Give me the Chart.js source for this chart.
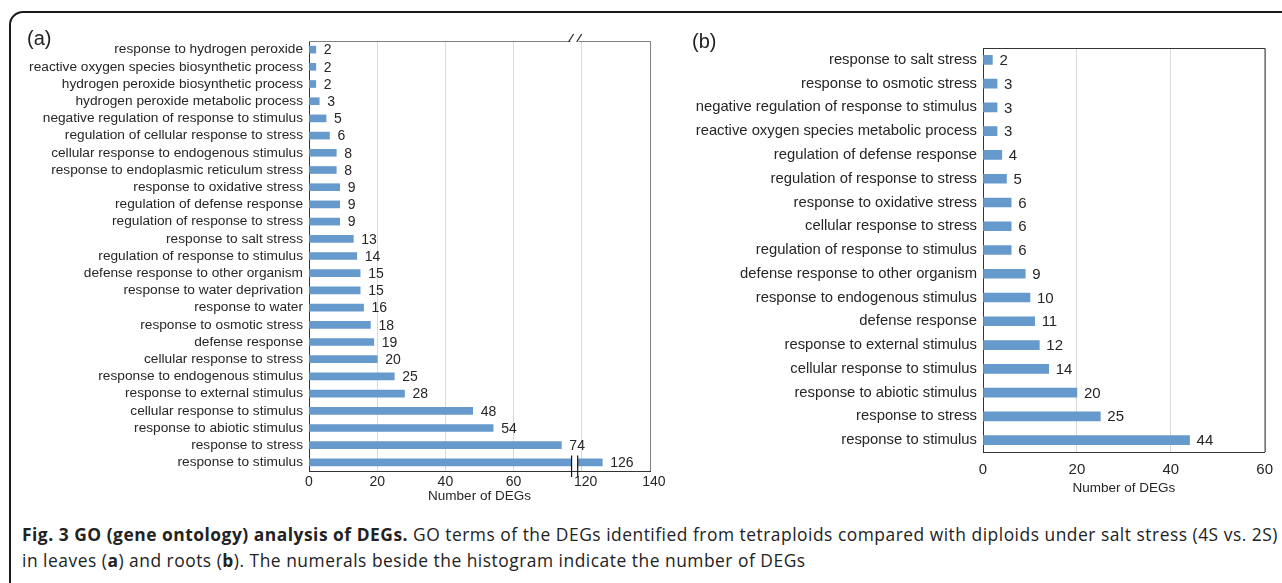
<!DOCTYPE html>
<html>
<head>
<meta charset="utf-8">
<script src="https://cdn.jsdelivr.net/npm/chart.js@4/dist/chart.umd.min.js"></script>
<style>
  body { margin: 0; background: #fff; width: 1282px; height: 583px; overflow: hidden; position: relative; font-family: "Liberation Sans", Arial, sans-serif; }
  #frame { position: absolute; left: 9px; top: 11px; width: 1320px; height: 640px; border: 2px solid #1a1a1a; border-radius: 14px; }
  .box { position: absolute; top: 0; height: 505px; }
  #boxA { left: 0; width: 680px; }
  #boxB { left: 680px; width: 602px; }
  .tag { position: absolute; font-size: 20px; color: #222; }
  #caption { position: absolute; left: 22px; top: 521px; font-family: "Open Sans", sans-serif; font-size: 17.4px; color: #222; line-height: 26px; white-space: nowrap; }
</style>
</head>
<body>
<div id="frame"></div>
<div class="box" id="boxA"><canvas id="chartA"></canvas></div>
<div class="box" id="boxB"><canvas id="chartB"></canvas></div>
<div class="tag" style="left:27px;top:27px;">(a)</div>
<div class="tag" style="left:692px;top:30px;">(b)</div>
<div id="caption"><span id="line1"><b>Fig. 3 GO (gene ontology) analysis of DEGs.</b> GO terms of the DEGs identified from tetraploids compared with diploids under salt stress (4S vs. 2S)</span><br><span id="line2">in leaves (<b>a</b>) and roots (<b>b</b>). The numerals beside the histogram indicate the number of DEGs</span></div>
<script>
// (a) leaves
var leafTerms = [
  'response to hydrogen peroxide',
  'reactive oxygen species biosynthetic process',
  'hydrogen peroxide biosynthetic process',
  'hydrogen peroxide metabolic process',
  'negative regulation of response to stimulus',
  'regulation of cellular response to stress',
  'cellular response to endogenous stimulus',
  'response to endoplasmic reticulum stress',
  'response to oxidative stress',
  'regulation of defense response',
  'regulation of response to stress',
  'response to salt stress',
  'regulation of response to stimulus',
  'defense response to other organism',
  'response to water deprivation',
  'response to water',
  'response to osmotic stress',
  'defense response',
  'cellular response to stress',
  'response to endogenous stimulus',
  'response to external stimulus',
  'cellular response to stimulus',
  'response to abiotic stimulus',
  'response to stress',
  'response to stimulus'
];
var leafCounts = [2, 2, 2, 3, 5, 6, 8, 8, 9, 9, 9, 13, 14, 15, 15, 16, 18, 19, 20, 25, 28, 48, 54, 74, 126];

// (b) roots
var rootTerms = [
  'response to salt stress',
  'response to osmotic stress',
  'negative regulation of response to stimulus',
  'reactive oxygen species metabolic process',
  'regulation of defense response',
  'regulation of response to stress',
  'response to oxidative stress',
  'cellular response to stress',
  'regulation of response to stimulus',
  'defense response to other organism',
  'response to endogenous stimulus',
  'defense response',
  'response to external stimulus',
  'cellular response to stimulus',
  'response to abiotic stimulus',
  'response to stress',
  'response to stimulus'
];
var rootCounts = [2, 3, 3, 3, 4, 5, 6, 6, 6, 9, 10, 11, 12, 14, 20, 25, 44];

var leafTicks = [0, 20, 40, 60, 120, 140];
var rootTicks = [0, 20, 40, 60];

// broken axis on (a): 80..100 on the drawn scale stand for 120..140
var axisJump = 40;
var breakMarks = [77, 78.8];

var barColor = '#6699CC';
var textColor = '#262626';

function toDrawn(v) { return v > 100 ? v - axisJump : v; }

const valueLabels = {
  id: 'valueLabels',
  afterDatasetsDraw(chart, args, opts) {
    const ctx = chart.ctx;
    const meta = chart.getDatasetMeta(0);
    const raw = opts.values;
    ctx.save();
    ctx.font = opts.size + 'px "Liberation Sans", Arial, sans-serif';
    ctx.fillStyle = textColor;
    ctx.textAlign = 'left';
    ctx.textBaseline = 'middle';
    meta.data.forEach((bar, i) => {
      ctx.fillText(String(raw[i]), bar.x + opts.gap, bar.y + 1);
    });
    ctx.restore();
  }
};

const frameBox = {
  id: 'frameBox',
  afterDraw(chart, args, opts) {
    const a = chart.chartArea, ctx = chart.ctx;
    ctx.save();
    ctx.lineWidth = 1;
    ctx.strokeStyle = opts.color;
    ctx.beginPath();
    ctx.moveTo(a.left, a.top + 0.5);
    ctx.lineTo(a.right + 0.5, a.top + 0.5);
    ctx.lineTo(a.right + 0.5, a.bottom);
    ctx.stroke();
    ctx.restore();
  }
};

const axisBreak = {
  id: 'axisBreak',
  afterDraw(chart) {
    const ctx = chart.ctx, sx = chart.scales.x, a = chart.chartArea;
    const x1 = sx.getPixelForValue(breakMarks[0]);
    const x2 = sx.getPixelForValue(breakMarks[1]);
    const meta = chart.getDatasetMeta(0);
    ctx.save();
    // gap through bars that cross the break
    meta.data.forEach((bar, i) => {
      if (leafCounts[i] > 100) {
        ctx.fillStyle = '#fff';
        ctx.fillRect(x1, bar.y - bar.height / 2 - 1, x2 - x1, bar.height + 2);
        ctx.strokeStyle = '#111';
        ctx.lineWidth = 1.2;
        ctx.beginPath();
        ctx.moveTo(x1, bar.y - 7); ctx.lineTo(x1, a.bottom + 6);
        ctx.moveTo(x2, bar.y - 7); ctx.lineTo(x2, a.bottom + 6);
        ctx.stroke();
      }
    });
    // slashes on the top border
    ctx.fillStyle = '#fff';
    ctx.fillRect(x1 - 1, a.top - 1, x2 - x1 + 2, 3);
    ctx.strokeStyle = '#222';
    ctx.lineWidth = 1.2;
    ctx.beginPath();
    ctx.moveTo(x1 - 3, a.top + 1); ctx.lineTo(x1 + 2, a.top - 7);
    ctx.moveTo(x2 - 1, a.top + 1); ctx.lineTo(x2 + 4, a.top - 7);
    ctx.stroke();
    ctx.restore();
  }
};

function makeChart(id, terms, values, cfg) {
  return new Chart(document.getElementById(id), {
    type: 'bar',
    data: {
      labels: terms,
      datasets: [{
        data: values,
        backgroundColor: barColor,
        borderWidth: 0,
        barThickness: cfg.thick
      }]
    },
    options: {
      indexAxis: 'y',
      responsive: true,
      maintainAspectRatio: false,
      animation: false,
      layout: { padding: { left: 0, right: cfg.padRight, top: cfg.padTop, bottom: cfg.padBottom } },
      plugins: {
        legend: { display: false },
        tooltip: { enabled: false },
        valueLabels: { values: cfg.raw, size: cfg.valueSize, gap: cfg.gap },
        frameBox: { color: cfg.boxColor }
      },
      scales: {
        x: {
          min: 0,
          max: cfg.max,
          afterBuildTicks: (s) => { s.ticks = cfg.tickPos.map(v => ({ value: v })); },
          afterFit: (s) => { s.height = cfg.xHeight; },
          grid: { color: '#d9d9d9', drawTicks: false, tickLength: 0 },
          border: { color: '#333', width: 1 },
          ticks: {
            color: textColor,
            padding: cfg.tickPad,
            font: { size: cfg.tickSize, family: '"Liberation Sans", Arial, sans-serif' },
            callback: cfg.tickText
          },
          title: {
            display: true,
            text: 'Number of DEGs',
            color: textColor,
            padding: { top: 0, bottom: 1 },
            font: { size: 13.5, family: '"Liberation Sans", Arial, sans-serif' }
          }
        },
        y: {
          afterFit: (s) => { s.width = cfg.yWidth; },
          grid: { display: false, drawTicks: false, tickLength: 0 },
          border: { color: '#333', width: 1 },
          ticks: {
            color: textColor,
            padding: 6,
            autoSkip: false,
            font: { size: cfg.labelSize, family: '"Liberation Sans", Arial, sans-serif' }
          }
        }
      }
    },
    plugins: cfg.extra
  });
}

document.addEventListener('DOMContentLoaded', function () {
  var leafPos = leafTicks.map(toDrawn);
  makeChart('chartA', leafTerms, leafCounts.map(toDrawn), {
    thick: 7, padRight: 30, padTop: 41, padBottom: 0,
    raw: leafCounts, valueSize: 14, gap: 8,
    boxColor: '#808080',
    max: 100, tickPos: leafPos, xHeight: 34, tickPad: 3, tickSize: 14,
    tickText: (v, i) => (leafTicks[i] > 100 ? '  ' : '') + leafTicks[i],
    yWidth: 309, labelSize: 13.7,
    extra: [valueLabels, frameBox, axisBreak]
  });

  makeChart('chartB', rootTerms, rootCounts, {
    thick: 9, padRight: 15, padTop: 48, padBottom: 8,
    raw: rootCounts, valueSize: 15, gap: 7,
    boxColor: '#333',
    max: 60, tickPos: rootTicks, xHeight: 45, tickPad: 9, tickSize: 15,
    tickText: (v, i) => String(rootTicks[i]),
    yWidth: 303, labelSize: 14.8,
    extra: [valueLabels, frameBox]
  });

  // stretch caption letter spacing so line 1 spans the figure width
  var line1 = document.getElementById('line1');
  var w = line1.getBoundingClientRect().width;
  var n = line1.textContent.length;
  var ls = (1256 - w) / n;
  document.getElementById('caption').style.letterSpacing = ls.toFixed(3) + 'px';
}, false);
</script>
</body>
</html>
